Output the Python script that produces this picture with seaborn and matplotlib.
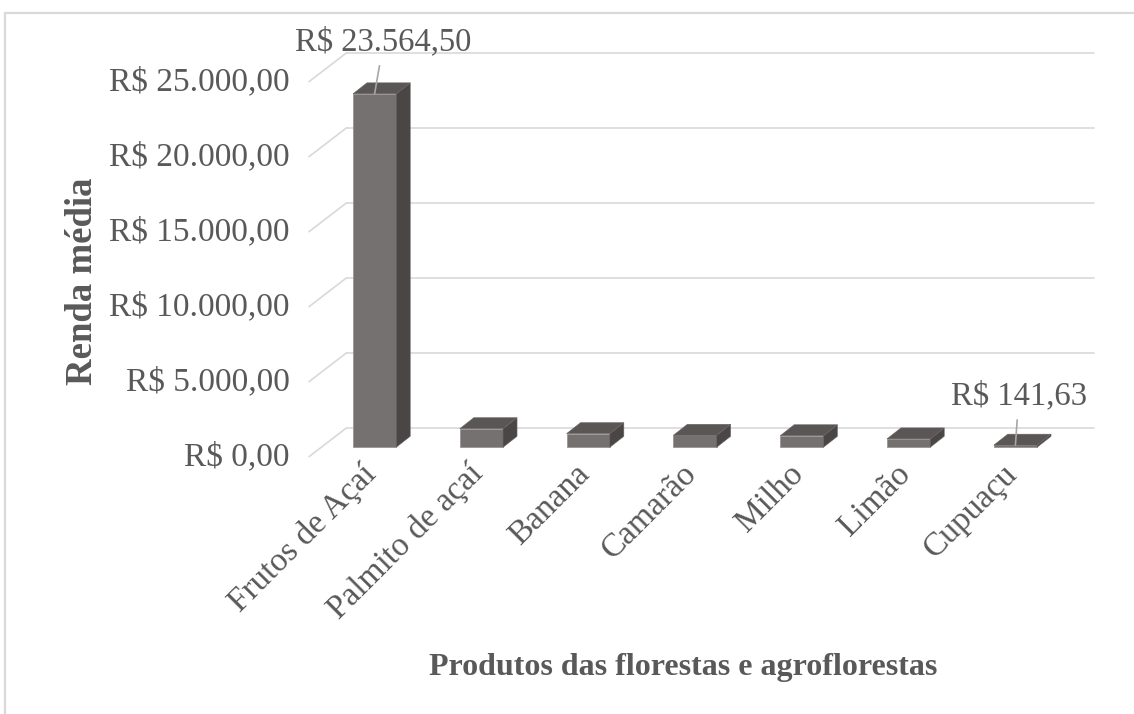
import seaborn as sns
import matplotlib.pyplot as plt
from matplotlib.patches import Polygon, Rectangle
from matplotlib.ticker import FuncFormatter
from matplotlib.transforms import ScaledTranslation

sns.set_style("white")
plt.rcParams['font.family'] = ['Liberation Serif', 'DejaVu Serif']

# dados
categorias = ["Frutos de Açaí", "Palmito de açaí", "Banana", "Camarão", "Milho", "Limão", "Cupuaçu"]
renda = [23564.50, 1240, 910, 800, 770, 560, 141.63]
yticks = [0, 5000, 10000, 15000, 20000, 25000]
rotulos_idx = [0, 6]  # barras com rotulo de valor

cor_frente = '#767171'
cor_lado = '#4b4646'
cor_topo = '#5b5656'
cor_grade = '#d9d9d9'
cor_texto = '#595959'


def reais(v, pos=None):
    s = '{:,.2f}'.format(v)
    s = s.replace(',', 'X').replace('.', ',').replace('X', '.')
    return 'R$ ' + s


W, H = 1134, 714
fig, ax = plt.subplots(figsize=(W / 100, H / 100), dpi=100)
# plano frontal do grafico 3D
x0, y0, largura, altura = 309, 456.7, 747.6, 375.0
ax.set_position([x0 / W, (H - y0) / H, largura / W, altura / H])

sns.barplot(x=categorias, y=renda, color=cor_frente, saturation=1, width=0.405,
            edgecolor='#9a9595', linewidth=0.6, ax=ax, zorder=3)
ax.set_xlim(-0.5, len(categorias) - 0.5)
ax.set_ylim(0, 25000)

# conversao pixel -> dados para a profundidade
px_x = len(categorias) / largura
px_y = 25000 / altura
fx, fy = 12.2 * px_x, 9.4 * px_y    # face frontal das barras
bx, by = 26.2 * px_x, 20.4 * px_y   # face traseira das barras
wx, wy = 37.7 * px_x, 29.0 * px_y   # parede do fundo

# grade no fundo + diagonais no lado esquerdo
xl, xr = ax.get_xlim()
for v in yticks:
    ax.plot([xl, xl + wx], [v, v + wy], color=cor_grade, lw=1.2, clip_on=False, zorder=0.5)
    ax.plot([xl + wx, xr + wx], [v + wy, v + wy], color=cor_grade, lw=1.2, clip_on=False, zorder=0.5)

# faces laterais e topo de cada barra
for p in ax.patches[:len(renda)]:
    xa, w, h = p.get_x(), p.get_width(), p.get_height()
    p.set_x(xa + fx)
    p.set_y(fy)
    p.set_clip_on(False)
    lado = Polygon([(xa + w + fx, fy), (xa + w + fx, fy + h), (xa + w + bx, by + h), (xa + w + bx, by)],
                   closed=True, facecolor=cor_lado, edgecolor='#6a6565', lw=0.4, zorder=3, clip_on=False)
    topo = Polygon([(xa + fx, fy + h), (xa + w + fx, fy + h), (xa + w + bx, by + h), (xa + bx, by + h)],
                   closed=True, facecolor=cor_topo, edgecolor='#6a6565', lw=0.4, zorder=3, clip_on=False)
    ax.add_patch(lado)
    ax.add_patch(topo)

# rotulos de valor com linha guia
deslocs = {0: (6.5, 37.5), 6: (2.5, 35.5)}
for i in rotulos_idx:
    p = ax.patches[i]
    xc = p.get_x() + p.get_width() / 2
    ax.annotate(reais(renda[i]), xy=(xc, p.get_y() + p.get_height()), xytext=deslocs[i],
                textcoords='offset points', ha='center', va='center', fontsize=23.5, color=cor_texto,
                arrowprops=dict(arrowstyle='-', color='#a6a6a6', lw=1.2, shrinkA=4, shrinkB=0),
                annotation_clip=False, zorder=5)

ax.set_yticks(yticks)
ax.yaxis.set_major_formatter(FuncFormatter(reais))
ax.tick_params(axis='y', length=0, pad=14, labelsize=24, labelcolor=cor_texto)
ax.tick_params(axis='x', length=0, pad=9, labelsize=24, labelcolor=cor_texto)
desl_x = ScaledTranslation(9 / 100, 0, fig.dpi_scale_trans)
for lab in ax.get_xticklabels():
    lab.set_rotation(45)
    lab.set_ha('right')
    lab.set_va('center')
    lab.set_rotation_mode('anchor')
    lab.set_transform(lab.get_transform() + desl_x)
desl_y = ScaledTranslation(0, 3 / 100, fig.dpi_scale_trans)
for lab in ax.get_yticklabels():
    lab.set_transform(lab.get_transform() + desl_y)
ax.set_xlabel('')
ax.set_ylabel('')
sns.despine(ax=ax, left=True, bottom=True)

fig.text(82 / W, 1 - 281 / H, 'Renda média', rotation=90, ha='center', va='center',
         fontsize=26.5, fontweight='bold', color=cor_texto)
fig.text(683 / W, 1 - 668 / H, 'Produtos das florestas e agroflorestas', ha='center', va='center',
         fontsize=23, fontweight='bold', color=cor_texto)

# moldura da area do grafico
fig.add_artist(Rectangle((5 / W, -0.5), 2, 0.5 + 1 - 13 / H, transform=fig.transFigure,
                         fill=False, edgecolor=cor_grade, lw=1.6))

fig.savefig('out.png', dpi=100)
